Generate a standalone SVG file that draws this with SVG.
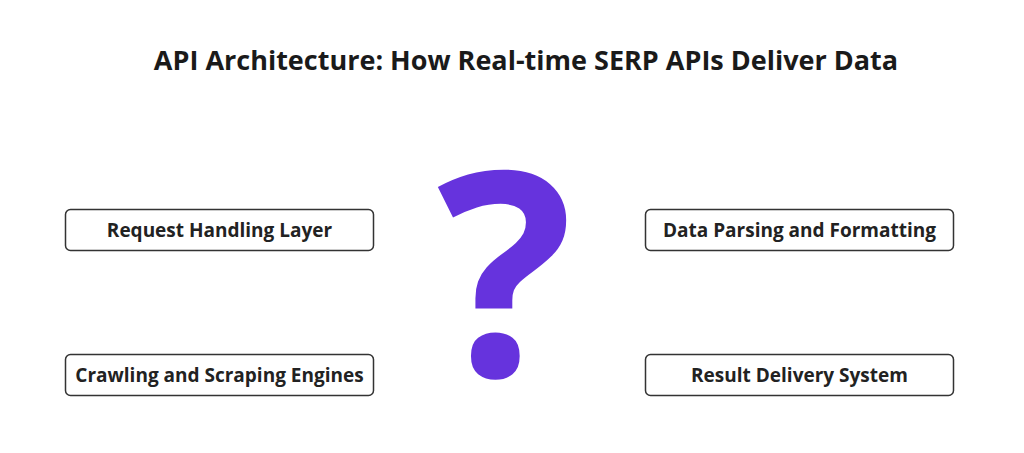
<svg xmlns="http://www.w3.org/2000/svg" width="1024" height="453" viewBox="0 0 1024 453">
<style>
.box{fill:#fff;stroke:#333;stroke-width:1.5}
.lbl{font-family:"Open Sans","Noto Sans",sans-serif;font-weight:700;font-size:19px;fill:#222;text-anchor:middle}
.title{font-family:"Open Sans","Noto Sans",sans-serif;font-weight:700;font-size:27px;fill:#1a1a1a;text-anchor:middle}
</style>
<rect width="1024" height="453" fill="#fff"/>
<text class="title" x="526" y="70">API Architecture: How Real-time SERP APIs Deliver Data</text>
<g id="question"><text x="505" y="376" font-family="'Open Sans','Noto Sans',sans-serif" font-weight="700" font-size="285" fill="#6633DD" text-anchor="middle">?</text></g>
<g id="connectors"></g>
<g id="n1"><rect class="box" x="65.5" y="209.5" width="308" height="41" rx="5"/><text class="lbl" x="219.5" y="237">Request Handling Layer</text></g>
<g id="n2"><rect class="box" x="645.5" y="209.5" width="308" height="41" rx="5"/><text class="lbl" x="799.5" y="237">Data Parsing and Formatting</text></g>
<g id="n3"><rect class="box" x="65.5" y="354.5" width="308" height="41" rx="5"/><text class="lbl" x="219.5" y="382">Crawling and Scraping Engines</text></g>
<g id="n4"><rect class="box" x="645.5" y="354.5" width="308" height="41" rx="5"/><text class="lbl" x="799.5" y="382">Result Delivery System</text></g>
</svg>
